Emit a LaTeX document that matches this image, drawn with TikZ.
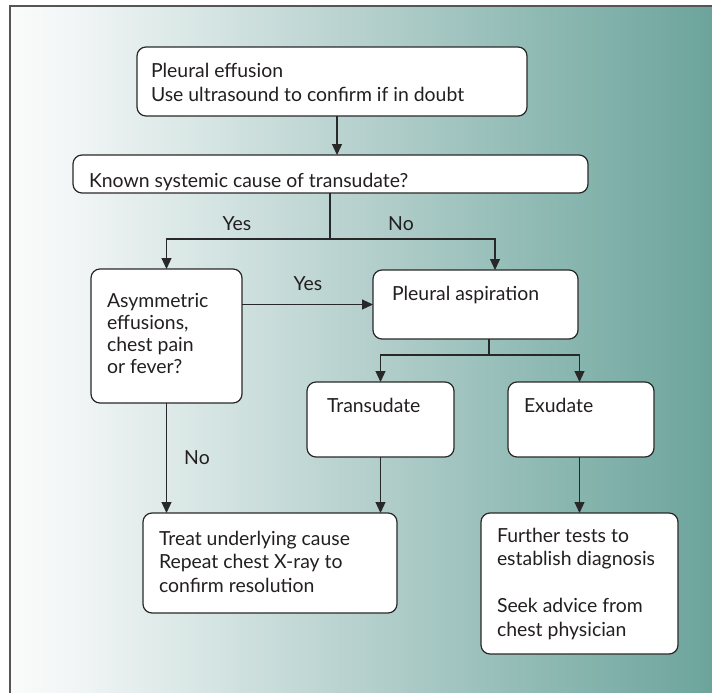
\documentclass[tikz,border=0pt]{standalone}
\usepackage{fontspec}
\setmainfont{Lato}
\usetikzlibrary{arrows.meta}
\definecolor{linec}{RGB}{40,40,40}
\definecolor{framec}{RGB}{85,85,85}
\definecolor{txt}{RGB}{35,31,32}
\definecolor{bga}{RGB}{250,251,251}
\definecolor{bgb}{RGB}{244,247,247}
\definecolor{bgc}{RGB}{215,230,228}
\definecolor{bgd}{RGB}{183,209,206}
\definecolor{bge}{RGB}{145,187,181}
\definecolor{bgf}{RGB}{108,164,156}
\pgfdeclarehorizontalshading{bgshade}{100bp}{color(0bp)=(bga); color(25bp)=(bga); color(28.6bp)=(bgb); color(38.5bp)=(bgc); color(49.6bp)=(bgd); color(62bp)=(bge); color(75bp)=(bgf); color(100bp)=(bgf)}
\newcommand{\fbx}[8]{\node[flowbox, anchor=north west] (#1) at (#2,#3) {\parbox[c][#5pt][t]{#4pt}{\leftskip=#7pt\rule{0pt}{#6pt}#8\par}};}
\begin{document}
\begin{tikzpicture}[x=1pt,y=-1pt,
  flowbox/.style={draw=linec, line width=1.2pt, fill=white, rounded corners=9pt, inner sep=0pt, outer sep=0pt, font=\fontsize{19.4}{23.5}\selectfont, text=txt},
  lab/.style={font=\fontsize{19.4}{23.5}\selectfont, text=txt, inner sep=0pt, anchor=base},
  ln/.style={draw=linec, line width=1.2pt},
  arr/.style={ln, -{Triangle[width=10pt,length=11pt]}}]
\useasboundingbox (0,0) rectangle (712,693);
\fill[white] (0,0) rectangle (712,693);
\shade[shading=bgshade] (10,6.5) rectangle (712,693);
\draw[framec, line width=2pt] (10,693) -- (10,6.5) -- (712,6.5);
\fbx{b1}{137}{47}{390}{69}{31}{14}{Pleural effusion\\Use ultrasound to confirm if in doubt}
\fbx{b2}{73}{155}{515}{38}{32}{16}{Known systemic cause of transudate?}
\fbx{b3}{91}{269}{151}{134}{38}{16}{Asymmetric\\[-1.5pt]effusions,\\[-1.5pt]chest pain\\[-1.5pt]or fever?}
\fbx{b4}{373}{270}{205}{69}{30}{19}{Pleural aspiration}
\fbx{b5}{307}{382}{147}{75}{30}{20}{Transudate}
\fbx{b6}{508}{382}{146}{75}{30}{16}{Exudate}
\fbx{b7}{143}{513}{254}{100}{32}{16}{Treat underlying cause\\Repeat chest X-ray to\\confirm resolution}
\fbx{b8}{481}{513}{197}{141}{29}{16}{Further tests to\\establish diagnosis\\[23.5pt]Seek advice from\\chest physician}
\coordinate (x1) at (337,0);
\coordinate (x2) at (495,0);
\coordinate (j1) at (330,239);
\coordinate (j2) at (489,355);
\draw[arr] (b1.south -| x1) -- (b2.north -| x1);
\draw[ln] (b2.south -| j1) -- (j1);
\draw[arr] (j1) -| (b3.north);
\draw[arr] (j1) -| (b4.north -| x2);
\draw[arr] (b3.east |- b4.west) -- (b4.west);
\draw[ln] (b4.south -| j2) -- (j2);
\draw[arr] (j2) -| (b5.north);
\draw[arr] (j2) -| (b6.north -| b8.north);
\draw[arr] (b3.south) -- (b3.south |- b7.north);
\draw[arr] (b5.south) -- (b5.south |- b7.north);
\draw[arr] (b6.south -| b8.north) -- (b8.north);
\node[lab] (yes1) at (237,230) {Yes};
\node[lab] (no1) at (401,230) {No};
\node[lab] (yes2) at (308,290) {Yes};
\node[lab] (no2) at (197,464) {No};
\end{tikzpicture}
\end{document}
